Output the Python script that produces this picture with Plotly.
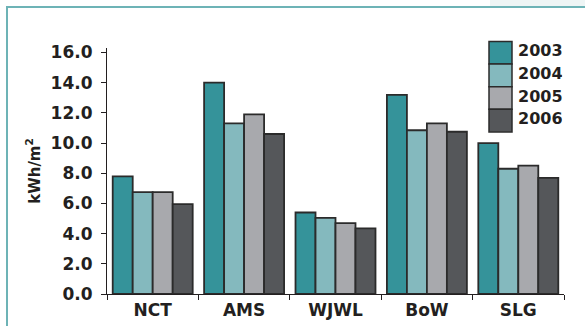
import plotly.graph_objects as go

categories = ["NCT", "AMS", "WJWL", "BoW", "SLG"]
years = ["2003", "2004", "2005", "2006"]
v2003 = [7.8, 14.0, 5.4, 13.2, 10.0]
v2004 = [6.75, 11.3, 5.05, 10.85, 8.3]
v2005 = [6.75, 11.9, 4.7, 11.3, 8.5]
v2006 = [5.95, 10.6, 4.35, 10.75, 7.7]
series = [v2003, v2004, v2005, v2006]
colors = ["#35939A", "#84B9BE", "#A8A9AD", "#55575A"]
y_ticks = [0, 2, 4, 6, 8, 10, 12, 14, 16]
y_tick_labels = ["0.0", "2.0", "4.0", "6.0", "8.0", "10.0", "12.0", "14.0", "16.0"]

FONT = "DejaVu Sans"
TXT = "#231F20"

fig = go.Figure()
for name, vals, col in zip(years, series, colors):
    fig.add_trace(go.Bar(
        x=categories, y=vals, name=name,
        marker=dict(color=col, line=dict(color="#2B2B2B", width=1.8)),
        showlegend=False,
    ))

W, H = 585, 326
ml, mr, mt, mb = 107, 21, 48, 32
pw, ph = W - ml - mr, H - mt - mb

def px_x(p):
    return (p - ml) / pw

def px_y(p):
    return (H - mb - p) / ph

shapes = []
# frame decoration
shapes.append(dict(type="rect", xref="paper", yref="paper",
                   x0=px_x(490), x1=px_x(585), y0=px_y(0), y1=px_y(6),
                   fillcolor="#EEF5F5", line=dict(width=0), layer="below"))
shapes.append(dict(type="line", xref="paper", yref="paper",
                   x0=px_x(6), x1=px_x(585), y0=px_y(7), y1=px_y(7),
                   line=dict(color="#6DB3B6", width=2)))
shapes.append(dict(type="line", xref="paper", yref="paper",
                   x0=px_x(7), x1=px_x(7), y0=px_y(6), y1=px_y(326),
                   line=dict(color="#6DB3B6", width=2)))

annotations = []
sw_x0, sw_x1, sw_top, sw_h = 489, 512, 41.5, 22.6
for i, (name, col) in enumerate(zip(years, colors)):
    top = sw_top + i * sw_h
    shapes.append(dict(type="rect", xref="paper", yref="paper",
                       x0=px_x(sw_x0), x1=px_x(sw_x1),
                       y0=px_y(top + sw_h), y1=px_y(top),
                       fillcolor=col, line=dict(color="#2B2B2B", width=1.5)))
    annotations.append(dict(xref="paper", yref="paper",
                            x=px_x(517), y=px_y(top + sw_h / 2 - 2.5),
                            text=name, showarrow=False, xanchor="left", yanchor="middle",
                            height=18, borderpad=0,
                            font=dict(family=FONT, size=16, color=TXT, weight="bold")))

fig.update_layout(
    width=W, height=H,
    margin=dict(l=ml, r=mr, t=mt, b=mb),
    paper_bgcolor="white", plot_bgcolor="white",
    barmode="group", bargap=0.125, bargroupgap=0,
    shapes=shapes, annotations=annotations,
    showlegend=False,
)
fig.update_xaxes(
    automargin=False,
    showline=True, linecolor="#231F20", linewidth=1.2,
    ticks="outside", tickson="boundaries", ticklen=5, tickcolor="#231F20",
    tickfont=dict(family=FONT, size=17, color=TXT, weight="bold"),
    showgrid=False,
)
fig.update_yaxes(
    automargin=False,
    range=[0, 16.3], tickvals=y_ticks, ticktext=y_tick_labels,
    showline=True, linecolor="#231F20", linewidth=1.2,
    ticks="outside", ticklen=5, tickcolor="#231F20",
    tickfont=dict(family=FONT, size=17, color=TXT, weight="bold"),
    ticklabelstandoff=5,
    showgrid=False, zeroline=False,
    title=dict(text="kWh/m<sup>2</sup>", standoff=6,
               font=dict(family=FONT, size=15, color=TXT, weight="bold")),
)

fig.write_html("out.html", config={"displayModeBar": False},
               post_script="document.body.style.margin='0';")
